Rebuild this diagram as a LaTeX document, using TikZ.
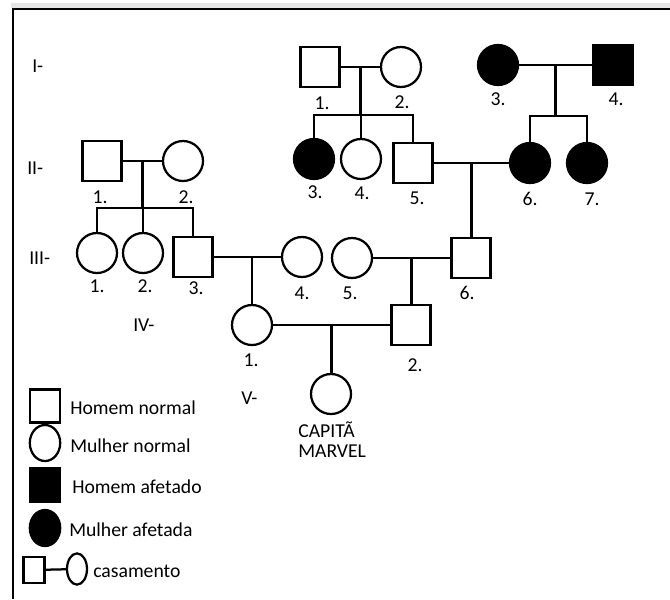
\documentclass[tikz,border=0pt]{standalone}
\usepackage{fontspec}
\setmainfont{Carlito}
\usetikzlibrary{positioning,calc,shapes.geometric}

\begin{document}
\begin{tikzpicture}[
    x=0.025cm, y=-0.025cm,
    % Define styles - pedigree symbols and texts
    male/.style={rectangle, draw=black, line width=1.6pt, minimum width=0.98cm, minimum height=1cm, inner sep=0pt},
    female/.style={circle, draw=black, line width=1.6pt, minimum size=1cm, inner sep=0pt},
    affected/.style={fill=black},
    keymale/.style={rectangle, draw=black, line width=1.6pt, minimum width=0.76cm, minimum height=0.82cm, inner sep=0pt},
    keyfemale/.style={ellipse, draw=black, line width=1.6pt, minimum width=0.76cm, minimum height=0.9cm, inner sep=0pt},
    num/.style={font=\fontsize{14}{14}\selectfont, inner sep=0pt},
    gen/.style={font=\fontsize{14}{14}\selectfont, inner sep=0pt, anchor=west},
    legend/.style={font=\fontsize{14}{14}\selectfont, inner sep=0pt, anchor=west},
    link/.style={line width=1.6pt}
]
\useasboundingbox (0,0) rectangle (670,599);

% Frame
\fill[black!10] (11,3) rectangle (670,8);
\draw[line width=1.8pt] (13,599) -- (13,9) -- (670,9);

% Generation labels
\node[gen] (gen1_lbl) at (32,66) {I-};
\node[gen] (gen2_lbl) at (27,168) {II-};
\node[gen] (gen3_lbl) at (29,258) {III-};
\node[gen] (gen4_lbl) at (133,325) {IV-};
\node[gen] (gen5_lbl) at (241,398) {V-};

% Generation I
\node[male] (gen1_1) at (320,67) {};
\node[female] (gen1_2) at (401,67) {};
\node[female, affected] (gen1_3) at (498,65) {};
\node[male, affected] (gen1_4) at (613,65) {};

% Generation II
\node[male] (gen2_1) at (102,161) {};
\node[female] (gen2_2) at (183,161) {};
\node[female, affected] (gen2_3) at (314,159) {};
\node[female] (gen2_4) at (361,159) {};
\node[male] (gen2_5) at (413,163) {};
\node[female, affected] (gen2_6) at (530,163) {};
\node[female, affected] (gen2_7) at (587,163) {};

% Generation III
\node[female] (gen3_1) at (97,253) {};
\node[female] (gen3_2) at (143,253) {};
\node[male] (gen3_3) at (193,257) {};
\node[female] (gen3_4) at (302,257) {};
\node[female] (gen3_5) at (352,258) {};
\node[male] (gen3_6) at (471,258) {};

% Generation IV
\node[female] (gen4_1) at (252,325) {};
\node[male] (gen4_2) at (411,325) {};

% Generation V
\node[female] (gen5_1) at (331,394) {};
\node[gen, anchor=base west] (gen5_name_top) at (298,437) {CAPITÃ};
\node[gen, anchor=base west] (gen5_name_bot) at (298,457) {MARVEL};

% Numbers
\node[num] (gen1_1_num) at (322,103) {1.};
\node[num] (gen1_2_num) at (402,102) {2.};
\node[num] (gen1_3_num) at (498,99) {3.};
\node[num] (gen1_4_num) at (616,99) {4.};
\node[num] (gen2_1_num) at (100,197) {1.};
\node[num] (gen2_2_num) at (186,197) {2.};
\node[num] (gen2_3_num) at (315,192) {3.};
\node[num] (gen2_4_num) at (362,193) {4.};
\node[num] (gen2_5_num) at (417,198) {5.};
\node[num] (gen2_6_num) at (530,199) {6.};
\node[num] (gen2_7_num) at (592,199) {7.};
\node[num] (gen3_1_num) at (97,286) {1.};
\node[num] (gen3_2_num) at (145,286) {2.};
\node[num] (gen3_3_num) at (196,288) {3.};
\node[num] (gen3_4_num) at (302,293) {4.};
\node[num] (gen3_5_num) at (350,293) {5.};
\node[num] (gen3_6_num) at (467,293) {6.};
\node[num] (gen4_1_num) at (251,360) {1.};
\node[num] (gen4_2_num) at (415,365) {2.};

% Marriages
\draw[link] (gen1_1) -- (gen1_2);
\draw[link] (gen1_3) -- (gen1_4);
\draw[link] (gen2_1) -- (gen2_2);
\draw[link] (gen2_5) -- (gen2_6);
\draw[link] (gen3_3) -- (gen3_4);
\draw[link] (gen3_5) -- (gen3_6);
\draw[link] (gen4_1) -- (gen4_2);

% Marriage midpoints and sibship lines
\coordinate (mar_a) at ($(gen1_1)!0.5!(gen1_2)$);
\coordinate (sib_a) at (mar_a |- 0,115);
\coordinate (mar_b) at ($(gen1_3)!0.5!(gen1_4)$);
\coordinate (sib_b) at (mar_b |- 0,116);
\coordinate (mar_c) at ($(gen2_1)!0.5!(gen2_2)$);
\coordinate (sib_c) at (mar_c |- 0,208);
\coordinate (mar_d) at ($(gen2_5)!0.5!(gen2_6)$);
\coordinate (mar_f) at ($(gen3_5)!0.5!(gen3_6)$);
\coordinate (mar_g) at ($(gen4_1)!0.5!(gen4_2)$);

% Descent I-1 x I-2
\draw[link] (mar_a) -- (sib_a);
\draw[link] (gen2_3.north) -- (gen2_3.north |- sib_a) -- (gen2_5.north |- sib_a) -- (gen2_5.north);
\draw[link] (gen2_4.north) -- (gen2_4.north |- sib_a);

% Descent I-3 x I-4
\draw[link] (mar_b) -- (sib_b);
\draw[link] (gen2_6.north) -- (gen2_6.north |- sib_b) -- (gen2_7.north |- sib_b) -- (gen2_7.north);

% Descent II-1 x II-2
\draw[link] (mar_c) -- (sib_c);
\draw[link] (gen3_1.north) -- (gen3_1.north |- sib_c) -- (gen3_3.north |- sib_c) -- (gen3_3.north);
\draw[link] (gen3_2.north) -- (gen3_2.north |- sib_c);

% Single children
\draw[link] (mar_d) -- (mar_d |- gen3_6.north);
\draw[link] (gen4_1.north) -- (gen4_1.north |- gen3_3);
\draw[link] (mar_f) -- (mar_f |- gen4_2.north);
\draw[link] (mar_g) -- (mar_g |- gen5_1.north);

% Legend
\node[keymale] (key_male) at (45,406) {};
\node[legend] (key_male_txt) at (70,408) {Homem normal};
\node[keyfemale] (key_female) at (45,443) {};
\node[legend] (key_female_txt) at (70,446) {Mulher normal};
\node[keymale, affected] (key_male_aff) at (45,485) {};
\node[legend] (key_male_aff_txt) at (72,487) {Homem afetado};
\node[keyfemale, affected] (key_female_aff) at (45,528) {};
\node[legend] (key_female_aff_txt) at (69,530) {Mulher afetada};
\node[keymale, minimum width=0.52cm, minimum height=0.66cm] (key_mar_m) at (34,570) {};
\node[keyfemale, minimum width=0.5cm, minimum height=0.78cm] (key_mar_f) at (77,569) {};
\draw[link] (key_mar_m) -- (key_mar_f);
\node[legend] (key_mar_txt) at (93,571) {casamento};

\end{tikzpicture}
\end{document}
